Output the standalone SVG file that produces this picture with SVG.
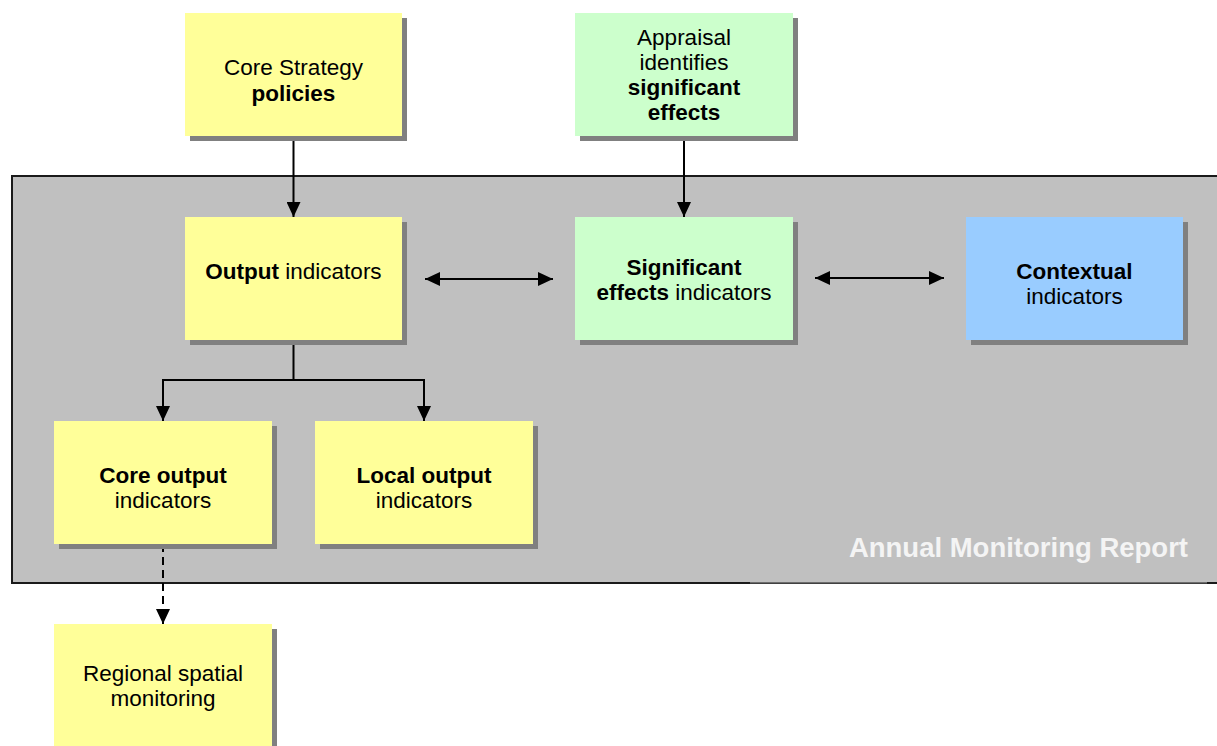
<svg xmlns="http://www.w3.org/2000/svg" width="1217" height="746" viewBox="0 0 1217 746">
<style>
text{font-family:"Liberation Sans",Arial,sans-serif;font-size:22.5px;fill:#000;text-anchor:middle}
.b{font-weight:bold}
.sh{fill:#808080}
.y{fill:#FFFF99}
.g{fill:#CCFFCC}
.bl{fill:#99CCFF}
.ln{stroke:#000;stroke-width:2;fill:none}
.title{font-size:27.5px;font-weight:bold;fill:#F4F4F4;text-anchor:end}
</style>
<defs>
<marker id="ah" viewBox="0 0 15 14" refX="15" refY="7" markerWidth="15" markerHeight="14" markerUnits="userSpaceOnUse" orient="auto-start-reverse">
<path d="M0,0 L15,7 L0,14 z" fill="#000"/>
</marker>
</defs>
<rect width="1217" height="746" fill="#fff"/>
<g id="panel">
<rect x="12" y="176" width="1215" height="407" fill="#C0C0C0" stroke="#1a1a1a" stroke-width="2"/>
<rect x="750" y="505" width="457" height="77.5" fill="#C0C0C0"/>
<line x1="750" y1="583.5" x2="1207" y2="583.5" stroke="#404040" stroke-width="1"/>
<text class="title" x="1188" y="557">Annual Monitoring Report</text>
</g>
<g id="connectors">
<path class="ln" d="M293.5,136 V217" marker-end="url(#ah)"/>
<path class="ln" d="M684,136 V217" marker-end="url(#ah)"/>
<path class="ln" d="M425,279 H553" marker-start="url(#ah)" marker-end="url(#ah)"/>
<path class="ln" d="M815,278 H944" marker-start="url(#ah)" marker-end="url(#ah)"/>
<path class="ln" d="M293.5,340 V380 M163,380 H424"/>
<path class="ln" d="M163,379 V421" marker-end="url(#ah)"/>
<path class="ln" d="M424,379 V421" marker-end="url(#ah)"/>
<path class="ln" d="M163,544 V624" stroke-dasharray="8,5" marker-end="url(#ah)"/>
</g>
<g id="core-strategy">
<rect class="sh" x="190" y="18" width="217" height="123"/>
<rect class="y" x="185" y="13" width="217" height="123"/>
<text x="293.5" y="75">Core Strategy</text>
<text class="b" x="293.5" y="101">policies</text>
</g>
<g id="appraisal">
<rect class="sh" x="580" y="18" width="218" height="123"/>
<rect class="g" x="575" y="13" width="218" height="123"/>
<text x="684" y="45">Appraisal</text>
<text x="684" y="70">identifies</text>
<text class="b" x="684" y="95">significant</text>
<text class="b" x="684" y="120">effects</text>
</g>
<g id="output-indicators">
<rect class="sh" x="190" y="222" width="217" height="123"/>
<rect class="y" x="185" y="217" width="217" height="123"/>
<text x="293.5" y="279"><tspan class="b">Output</tspan> indicators</text>
</g>
<g id="significant-effects">
<rect class="sh" x="580" y="222" width="218" height="123"/>
<rect class="g" x="575" y="217" width="218" height="123"/>
<text class="b" x="684" y="275">Significant</text>
<text x="684" y="300"><tspan class="b">effects</tspan> indicators</text>
</g>
<g id="contextual">
<rect class="sh" x="971" y="222" width="217" height="123"/>
<rect class="bl" x="966" y="217" width="217" height="123"/>
<text class="b" x="1074.5" y="279">Contextual</text>
<text x="1074.5" y="304">indicators</text>
</g>
<g id="core-output">
<rect class="sh" x="59" y="426" width="218" height="123"/>
<rect class="y" x="54" y="421" width="218" height="123"/>
<text class="b" x="163" y="483">Core output</text>
<text x="163" y="508">indicators</text>
</g>
<g id="local-output">
<rect class="sh" x="320" y="426" width="218" height="123"/>
<rect class="y" x="315" y="421" width="218" height="123"/>
<text class="b" x="424" y="483">Local output</text>
<text x="424" y="508">indicators</text>
</g>
<g id="regional">
<rect class="sh" x="59" y="629" width="218" height="123"/>
<rect class="y" x="54" y="624" width="218" height="123"/>
<text x="163" y="681">Regional spatial</text>
<text x="163" y="706">monitoring</text>
</g>
</svg>
